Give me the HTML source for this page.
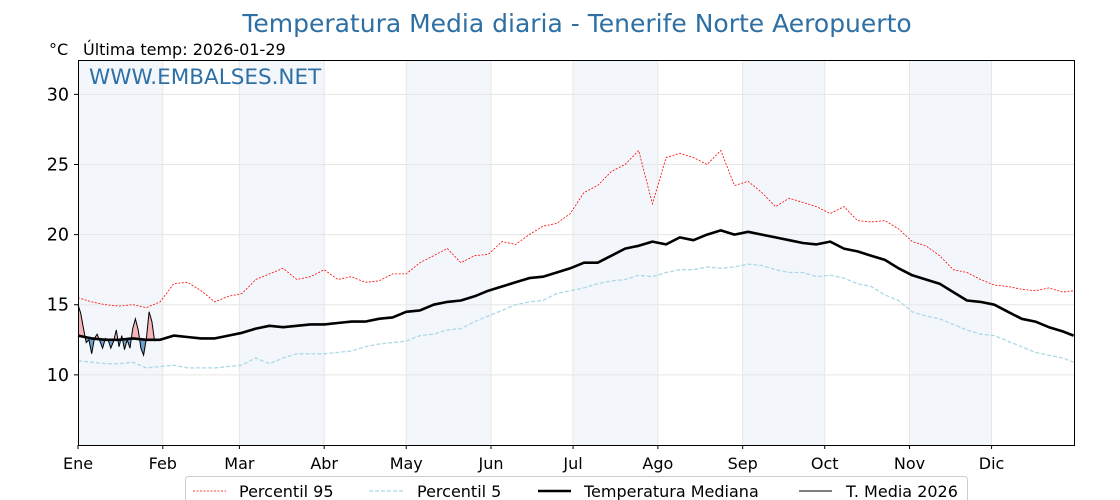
<!DOCTYPE html>
<html><head><meta charset="utf-8"><style>
body{margin:0;background:#fff;}
svg{display:block;font-family:"DejaVu Sans","Liberation Sans",sans-serif;}
</style></head><body>
<svg id="chart" width="1120" height="500" viewBox="0 0 1120 500">
<text x="577" y="32" text-anchor="middle" font-size="25" fill="#2e6fa4">Temperatura Media diaria - Tenerife Norte Aeropuerto</text>
<text x="49" y="55" font-size="16" fill="#000">°C</text>
<text x="83" y="55" font-size="16" fill="#000">Última temp: 2026-01-29</text>
<g id="plot"></g>
<text x="89" y="84" font-size="21.5" fill="#2e6fa4">WWW.EMBALSES.NET</text>
<g>
<rect x="185.5" y="476.5" width="782" height="30" rx="3" fill="#fff" stroke="#ccc"/>
<g><line x1="193" y1="491" x2="226" y2="491" stroke="red" stroke-width="0.8" stroke-dasharray="2,1.5"/><text x="239" y="497" font-size="16">Percentil 95</text></g>
<g><line x1="369" y1="491" x2="403" y2="491" stroke="#add8e6" stroke-width="1.2" stroke-dasharray="4,2"/><text x="417" y="497" font-size="16">Percentil 5</text></g>
<g><line x1="538" y1="491" x2="571" y2="491" stroke="#000" stroke-width="2.5"/><text x="584" y="497" font-size="16">Temperatura Mediana</text></g>
<g><line x1="799" y1="491" x2="832" y2="491" stroke="#000" stroke-width="1"/><text x="846" y="497" font-size="16">T. Media 2026</text></g>
</g>
</svg>
<script>
const sampleDays=[];for(let d=0;d<=360;d+=5)sampleDays.push(d);sampleDays.push(364);
const median=[12.8,12.6,12.5,12.5,12.6,12.5,12.5,12.8,12.7,12.6,12.6,12.8,13.0,13.3,13.5,13.4,13.5,13.6,13.6,13.7,13.8,13.8,14.0,14.1,14.5,14.6,15.0,15.2,15.3,15.6,16.0,16.3,16.6,16.9,17.0,17.3,17.6,18.0,18.0,18.5,19.0,19.2,19.5,19.3,19.8,19.6,20.0,20.3,20.0,20.2,20.0,19.8,19.6,19.4,19.3,19.5,19.0,18.8,18.5,18.2,17.6,17.1,16.8,16.5,15.9,15.3,15.2,15.0,14.5,14.0,13.8,13.4,13.1,12.8];
const p5=[11.0,10.9,10.8,10.8,10.9,10.5,10.6,10.7,10.5,10.5,10.5,10.6,10.7,11.2,10.8,11.2,11.5,11.5,11.5,11.6,11.7,12.0,12.2,12.3,12.4,12.8,12.9,13.2,13.3,13.8,14.2,14.6,15.0,15.2,15.3,15.8,16.0,16.2,16.5,16.7,16.8,17.1,17.0,17.3,17.5,17.5,17.7,17.6,17.7,17.9,17.8,17.5,17.3,17.3,17.0,17.1,16.9,16.5,16.3,15.7,15.3,14.5,14.2,14.0,13.6,13.2,12.9,12.8,12.4,12.0,11.6,11.4,11.2,10.9];
const p95=[15.5,15.2,15.0,14.9,15.0,14.8,15.2,16.5,16.6,16.0,15.2,15.6,15.8,16.8,17.2,17.6,16.8,17.0,17.5,16.8,17.0,16.6,16.7,17.2,17.2,18.0,18.5,19.0,18.0,18.5,18.6,19.5,19.3,20.0,20.6,20.8,21.5,23.0,23.5,24.5,25.0,26.0,22.2,25.5,25.8,25.5,25.0,26.0,23.5,23.8,23.0,22.0,22.6,22.3,22.0,21.5,22.0,21.0,20.9,21.0,20.4,19.5,19.2,18.5,17.5,17.3,16.8,16.4,16.3,16.1,16.0,16.2,15.9,16.0];
const t2026=[15.0,14.4,13.3,12.3,12.5,11.5,12.6,12.9,12.4,11.9,12.6,12.5,11.9,12.4,13.2,12.0,12.8,11.8,12.5,11.9,13.3,14.0,13.2,11.9,11.4,12.6,14.5,13.8,12.4];
const monthLabels=["Ene","Feb","Mar","Abr","May","Jun","Jul","Ago","Sep","Oct","Nov","Dic"];
const monthStarts=[0,31,59,90,120,151,181,212,243,273,304,334];
const yTicks=[10,15,20,25,30];

const X0=78,X1=1075,Y0=60,Y1=445,YMIN=5,YMAX=32.45,DMAX=364.5;
const xs=d=>X0+d/DMAX*(X1-X0);
const ys=v=>Y1-(v-YMIN)/(YMAX-YMIN)*(Y1-Y0);
const NS="http://www.w3.org/2000/svg";
const g=document.getElementById('plot');
function mk(t,a,p){const e=document.createElementNS(NS,t);for(const k in a)e.setAttribute(k,a[k]);(p||g).appendChild(e);return e;}
function medAt(d){let i=0;while(i<sampleDays.length-2&&sampleDays[i+1]<=d)i++;const f=(d-sampleDays[i])/(sampleDays[i+1]-sampleDays[i]);return median[i]*(1-f)+median[i+1]*f;}

monthStarts.forEach((s,i)=>{if(i%2===0){const e=monthStarts[i+1]||365;
const r=mk('rect',{x:xs(s),y:Y0,width:xs(e)-xs(s),height:Y1-Y0,fill:'#f3f7fc'});

}});
yTicks.forEach(t=>{const l=mk('line',{x1:X0,x2:X1,y1:ys(t),y2:ys(t),stroke:'#e6e6e6','stroke-width':1});
});
monthStarts.forEach((s,i)=>{if(i>0){const l=mk('line',{x1:xs(s),x2:xs(s),y1:Y0,y2:Y1,stroke:'#e6e6e6','stroke-width':1});
}});

function pts(days,vals){return days.map((d,i)=>xs(d).toFixed(1)+','+ys(vals[i]).toFixed(1)).join(' ');}
const pl1=mk('polyline',{points:pts(sampleDays,p95),fill:'none',stroke:'red','stroke-width':0.8,'stroke-dasharray':'2,1.5'});

const pl2=mk('polyline',{points:pts(sampleDays,p5),fill:'none',stroke:'#add8e6','stroke-width':1.3,'stroke-dasharray':'4,2'});


const dDays=t2026.map((_,i)=>i);
const medLine=dDays.map(d=>xs(d).toFixed(1)+','+ys(medAt(d)).toFixed(1));
const defs=mk('defs',{});
const cpA=mk('clipPath',{id:'above'},defs);
mk('polygon',{points:xs(0)+','+Y0+' '+medLine.join(' ')+' '+xs(dDays.length-1)+','+Y0},cpA);
const cpB=mk('clipPath',{id:'below'},defs);
mk('polygon',{points:xs(0)+','+Y1+' '+medLine.join(' ')+' '+xs(dDays.length-1)+','+Y1},cpB);
const between=pts(dDays,t2026)+' '+medLine.slice().reverse().join(' ');
const fa=mk('polygon',{points:between,fill:'#f4b6b6','clip-path':'url(#above)'});

const fb=mk('polygon',{points:between,fill:'#6d9fcb','clip-path':'url(#below)'});


const pl3=mk('polyline',{points:pts(sampleDays,median),fill:'none',stroke:'#000','stroke-width':2.6,'stroke-linejoin':'round'});

const pl4=mk('polyline',{points:pts(dDays,t2026),fill:'none',stroke:'#000','stroke-width':1});


const fr=mk('rect',{x:X0+0.5,y:Y0+0.5,width:X1-X0-1,height:Y1-Y0,fill:'none',stroke:'#000','stroke-width':1});

yTicks.forEach(t=>{mk('line',{x1:X0-4,x2:X0,y1:ys(t),y2:ys(t),stroke:'#000'});
const tx=mk('text',{x:X0-9,y:ys(t)+6,'text-anchor':'end','font-size':17.5});tx.textContent=t;
});
monthStarts.forEach((s,i)=>{mk('line',{x1:xs(s),x2:xs(s),y1:Y1,y2:Y1+4,stroke:'#000'});
const tx=mk('text',{x:xs(s),y:Y1+24,'text-anchor':'middle','font-size':16});tx.textContent=monthLabels[i];
});
</script>
</body></html>
